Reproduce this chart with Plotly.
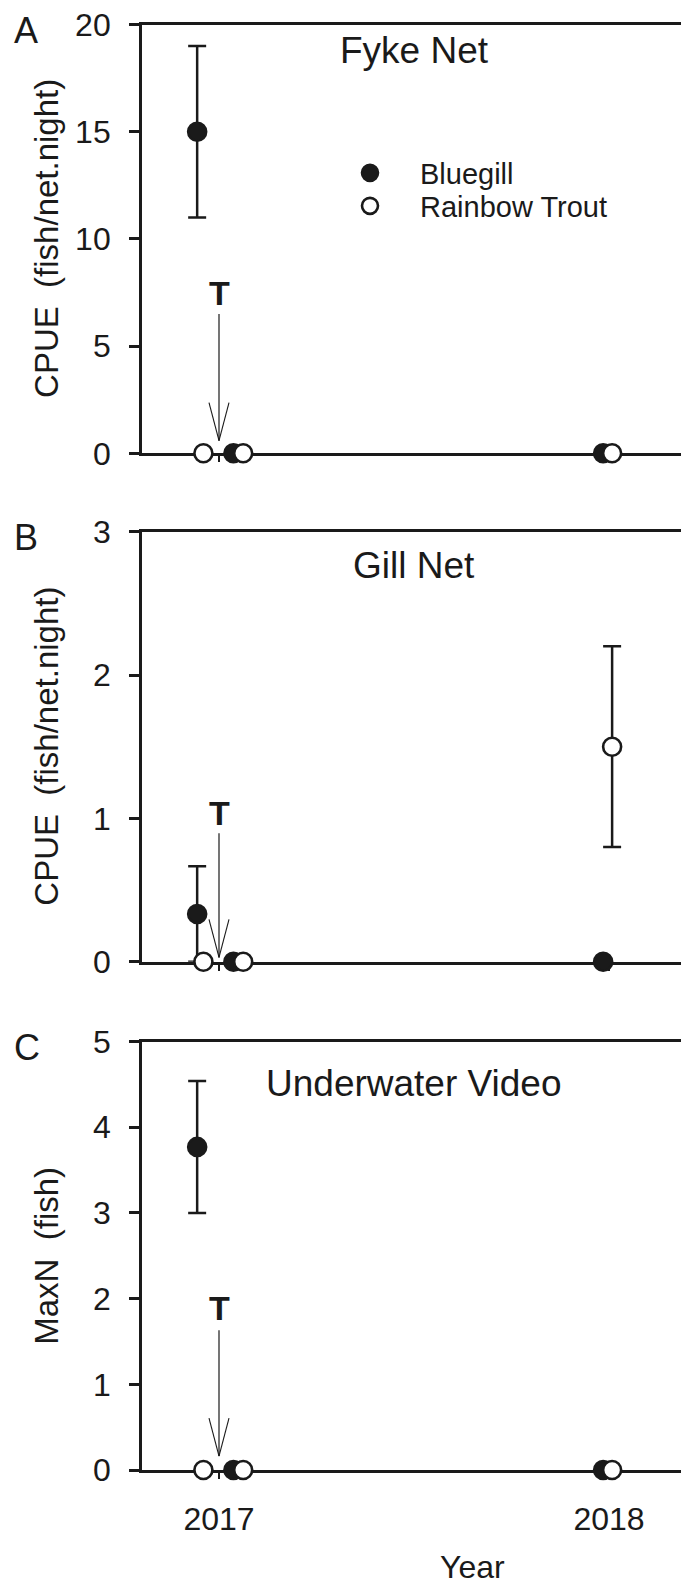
import plotly.graph_objects as go

# ---- data -------------------------------------------------------------
# sampling dates as decimal years (pre-treatment, post-treatment, 2018)
bluegill_x = [2016.944, 2017.037, 2017.985]
trout_x = [2016.960, 2017.062, 2018.008]
TREATMENT = 2017.0

# Fyke net CPUE (fish/net.night)
fyke_bluegill = [15.0, 0.0, 0.0]
fyke_bluegill_se = [4.0, None, None]
fyke_trout = [0.0, 0.0, 0.0]
fyke_trout_se = [None, None, None]

# Gill net CPUE (fish/net.night)
gill_bluegill = [0.333, 0.0, 0.0]
gill_bluegill_se = [0.333, None, None]
gill_trout = [0.0, 0.0, 1.5]
gill_trout_se = [None, None, 0.7]

# Underwater video MaxN (fish)
video_bluegill = [3.77, 0.0, 0.0]
video_bluegill_se = [0.77, None, None]
video_trout = [0.0, 0.0, 0.0]
video_trout_se = [None, None, None]

panel_letters = ["A", "B", "C"]
panel_titles = ["Fyke Net", "Gill Net", "Underwater Video"]
y_titles = ["CPUE\u00a0\u00a0(fish/net.night)", "CPUE\u00a0\u00a0(fish/net.night)", "MaxN\u00a0\u00a0(fish)"]
y_max = [20, 3, 5]
y_dtick = [5, 1, 1]
year_ticks = [2017, 2018]

# treatment label / arrow heights in data units per panel
t_label_y = [7.48, 1.035, 1.885]
arrow_top = [6.5, 0.896, 1.63]
arrow_tip = [0.59, 0.03, 0.163]

# ---- layout geometry --------------------------------------------------
W, H = 681, 1585
ML = 142
PW = W - ML
PX_PER_YEAR = 390.0
X0 = 2017 - (219 - ML) / PX_PER_YEAR
X1 = X0 + PW / PX_PER_YEAR
panel_px = [(24.5, 453.3), (531.7, 961.7), (1041.5, 1470.0)]

INK = "#1a1a1a"
FONT = "Liberation Sans, Arial, sans-serif"


def px_x(p):
    return (p - ML) / PW


def px_y(p):
    return 1 - p / H


fig = go.Figure()

series = [
    (fyke_bluegill, fyke_bluegill_se, fyke_trout, fyke_trout_se),
    (gill_bluegill, gill_bluegill_se, gill_trout, gill_trout_se),
    (video_bluegill, video_bluegill_se, video_trout, video_trout_se),
]

for i, (bg, bg_se, rt, rt_se) in enumerate(series):
    xa = "x" if i == 0 else f"x{i + 1}"
    ya = "y" if i == 0 else f"y{i + 1}"
    fig.add_trace(go.Scatter(
        x=bluegill_x, y=bg, mode="markers", name="Bluegill",
        xaxis=xa, yaxis=ya, showlegend=(i == 0), legend="legend", cliponaxis=False,
        marker=dict(symbol="circle", size=18, color=INK, line=dict(color=INK, width=2.6)),
        error_y=dict(type="data", array=bg_se, visible=True, color=INK, thickness=2.5, width=9),
    ))
    fig.add_trace(go.Scatter(
        x=trout_x, y=rt, mode="markers", name="Rainbow Trout",
        xaxis=xa, yaxis=ya, showlegend=(i == 0), legend="legend2", cliponaxis=False,
        marker=dict(symbol="circle", size=18, color="white", line=dict(color=INK, width=2.6)),
        error_y=dict(type="data", array=rt_se, visible=True, color=INK, thickness=2.5, width=9),
    ))

    top, bot = panel_px[i]
    common_x = dict(
        range=[X0, X1], domain=[0, 1], anchor=ya,
        showline=True, linecolor=INK, linewidth=2.8, mirror=True,
        ticks="outside", ticklen=6, tickwidth=2, tickcolor=INK,
        tickmode="array", tickvals=year_ticks, ticktext=[str(v) for v in year_ticks],
        showticklabels=(i == 2), tickfont=dict(family=FONT, size=32, color=INK),
        ticklabelstandoff=13,
        showgrid=False, zeroline=False, layer="below traces", automargin=False,
    )
    common_y = dict(
        range=[0, y_max[i]], domain=[px_y(bot), px_y(top)], anchor=xa,
        showline=True, linecolor=INK, linewidth=2.8, mirror=False,
        ticks="outside", ticklen=10, tickwidth=2.5, tickcolor=INK,
        dtick=y_dtick[i], tick0=0,
        tickfont=dict(family=FONT, size=32, color=INK), ticklabelstandoff=12,
        showgrid=False, zeroline=False, layer="below traces", automargin=False,
    )
    fig.update_layout(**{
        ("xaxis" if i == 0 else f"xaxis{i + 1}"): common_x,
        ("yaxis" if i == 0 else f"yaxis{i + 1}"): common_y,
    })

    # panel letter, title, y-axis title
    fig.add_annotation(x=px_x(12), y=px_y(top + 6), xref="paper", yref="paper",
                       text=panel_letters[i], showarrow=False, xanchor="left", yanchor="middle",
                       font=dict(family=FONT, size=36, color=INK))
    title_y = [50, 565, 1083][i]
    fig.add_annotation(x=px_x(414), y=px_y(title_y), xref="paper", yref="paper",
                       text=panel_titles[i], showarrow=False, xanchor="center", yanchor="middle",
                       font=dict(family=FONT, size=37, color=INK))
    fig.add_annotation(x=px_x(47), y=px_y((top + bot) / 2), xref="paper", yref="paper",
                       text=y_titles[i], showarrow=False, textangle=-90,
                       xanchor="center", yanchor="middle",
                       font=dict(family=FONT, size=33, color=INK))

    # treatment marker: bold T with an open-headed arrow
    fig.add_annotation(x=TREATMENT, y=t_label_y[i], xref=xa, yref=ya,
                       text="<b>T</b>", showarrow=False, xanchor="center", yanchor="middle",
                       font=dict(family=FONT, size=34, color=INK))
    fig.add_shape(type="line", xref=xa, yref=ya, x0=TREATMENT, x1=TREATMENT,
                  y0=arrow_top[i], y1=arrow_tip[i], line=dict(color=INK, width=1.2))
    for side in (-10, 10):
        fig.add_shape(type="line", xref=xa, yref=ya,
                      xsizemode="pixel", xanchor=TREATMENT,
                      ysizemode="pixel", yanchor=arrow_tip[i],
                      x0=0, y0=0, x1=side, y1=38,
                      line=dict(color=INK, width=1.1))

fig.add_annotation(x=px_x(472), y=px_y(1567), xref="paper", yref="paper",
                   text="Year", showarrow=False, xanchor="center", yanchor="middle",
                   font=dict(family=FONT, size=32, color=INK))

legend_style = dict(
    xanchor="left", yanchor="middle", bgcolor="rgba(0,0,0,0)", itemwidth=90,
    font=dict(family=FONT, size=29, color=INK),
)
fig.update_layout(
    width=W, height=H,
    margin=dict(l=ML, r=0, t=0, b=0),
    paper_bgcolor="white", plot_bgcolor="white",
    font=dict(family=FONT, color=INK),
    legend=dict(x=px_x(320), y=px_y(173), **legend_style),
    legend2=dict(x=px_x(320), y=px_y(206), **legend_style),
    showlegend=True,
)

fig.write_html("out.html")
